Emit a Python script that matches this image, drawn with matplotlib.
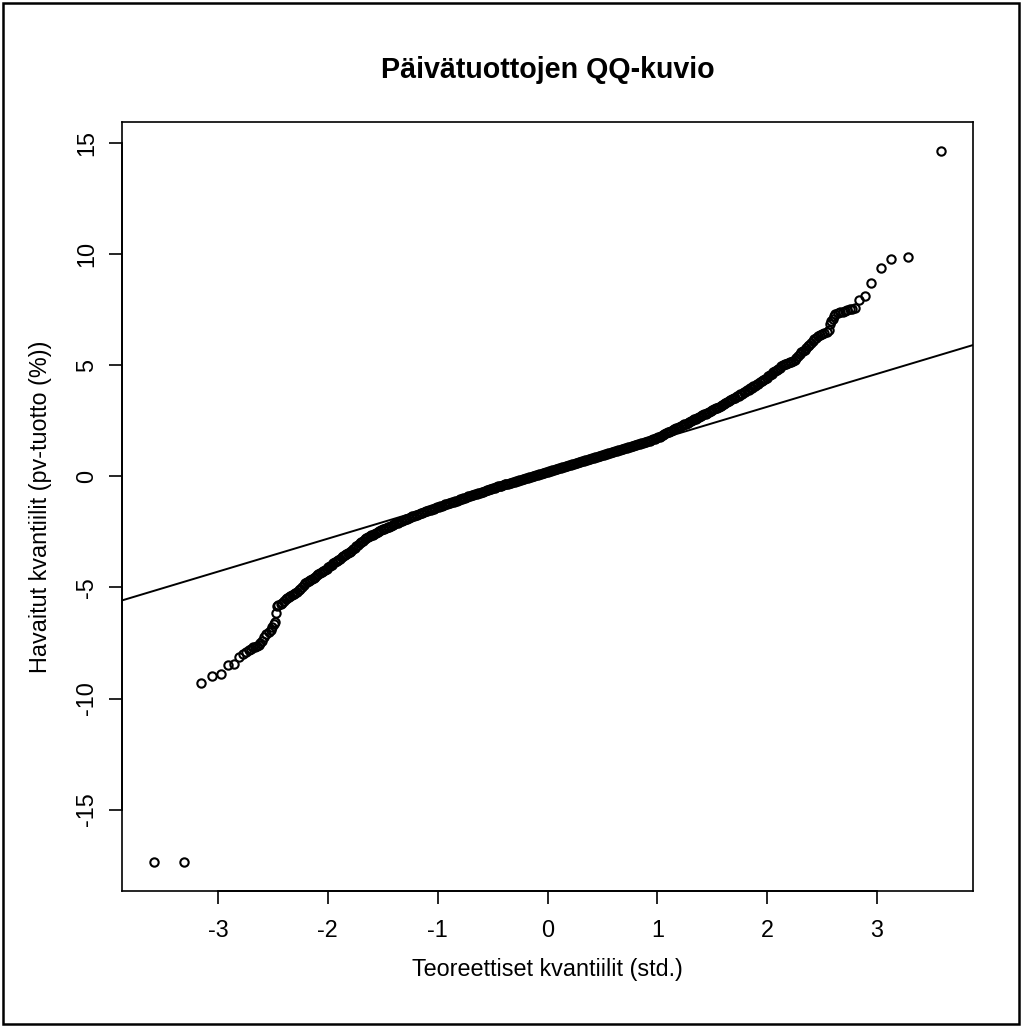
import matplotlib
matplotlib.use("Agg")
import matplotlib.pyplot as plt
from matplotlib.patches import Rectangle
import matplotlib.transforms as mtransforms

plt.rcParams['font.family'] = ['Liberation Sans', 'DejaVu Sans']

title = "Päivätuottojen QQ-kuvio"
x_label = "Teoreettiset kvantiilit (std.)"
y_label = "Havaitut kvantiilit (pv-tuotto (%))"

x_ticks = [-3, -2, -1, 0, 1, 2, 3]
x_tick_labels = ["-3", "-2", "-1", "0", "1", "2", "3"]
y_ticks = [-15, -10, -5, 0, 5, 10, 15]
y_tick_labels = ["-15", "-10", "-5", "0", "5", "10", "15"]

# sparse lower tail (theoretical, observed)
lower_tail_x = [-3.584, -3.307, -3.155, -3.055, -2.973, -2.912, -2.858, -2.812, -2.772,
                -2.745, -2.72, -2.70, -2.68, -2.66, -2.645, -2.63, -2.615, -2.60, -2.578,
                -2.56, -2.539, -2.52, -2.508, -2.49, -2.478, -2.475, -2.463, -2.45]
lower_tail_y = [-17.37, -17.37, -9.29, -9.00, -8.89, -8.49, -8.45, -8.12, -8.01,
                -7.90, -7.82, -7.75, -7.70, -7.66, -7.64, -7.58, -7.49, -7.40, -7.23,
                -7.10, -7.01, -6.90, -6.78, -6.65, -6.56, -6.15, -5.84, -5.80]

# dense central part (theoretical, observed), read along the band
central_x = [-2.43, -2.40, -2.37, -2.34, -2.31, -2.28, -2.25, -2.22, -2.19, -2.16,
             -2.13, -2.10, -2.07, -2.04, -2.01, -1.98, -1.95, -1.92, -1.89, -1.86,
             -1.83, -1.80, -1.77, -1.74, -1.71, -1.68, -1.65, -1.62, -1.59, -1.56,
             -1.53, -1.50, -1.47, -1.44, -1.41, -1.38, -1.35, -1.32, -1.29, -1.26,
             -1.23, -1.20, -1.17, -1.14, -1.11, -1.08, -1.05, -1.02, -0.99, -0.96,
             -0.93, -0.90, -0.87, -0.84, -0.81, -0.78, -0.75, -0.72, -0.69, -0.66,
             -0.63, -0.60, -0.57, -0.54, -0.51, -0.48, -0.45, -0.42, -0.39, -0.36,
             -0.33, -0.30, -0.27, -0.24, -0.21, -0.18, -0.15, -0.12, -0.09, -0.06,
             -0.03, 0.00, 0.03, 0.06, 0.09, 0.12, 0.15, 0.18, 0.21, 0.24,
             0.27, 0.30, 0.33, 0.36, 0.39, 0.42, 0.45, 0.48, 0.51, 0.54,
             0.57, 0.60, 0.63, 0.66, 0.69, 0.72, 0.75, 0.78, 0.81, 0.84,
             0.87, 0.90, 0.93, 0.96, 0.99, 1.02, 1.05, 1.08, 1.11, 1.14,
             1.17, 1.20, 1.23, 1.26, 1.29, 1.32, 1.35, 1.38, 1.41, 1.44,
             1.47, 1.50, 1.53, 1.56, 1.59, 1.62, 1.65, 1.68, 1.71, 1.74,
             1.77, 1.80, 1.83, 1.86, 1.89, 1.92, 1.95, 1.98, 2.01, 2.04,
             2.07, 2.10, 2.13, 2.16, 2.19, 2.22, 2.25, 2.28, 2.31, 2.34,
             2.37, 2.40, 2.43, 2.46]
central_y = [-5.74, -5.62, -5.46, -5.37, -5.28, -5.19, -5.05, -4.88, -4.76, -4.66,
             -4.56, -4.46, -4.36, -4.26, -4.15, -4.04, -3.92, -3.81, -3.70, -3.60,
             -3.49, -3.39, -3.28, -3.14, -3.00, -2.89, -2.79, -2.70, -2.62, -2.53,
             -2.46, -2.39, -2.32, -2.26, -2.19, -2.12, -2.06, -1.99, -1.93, -1.86,
             -1.80, -1.74, -1.69, -1.63, -1.58, -1.53, -1.48, -1.42, -1.37, -1.32,
             -1.26, -1.21, -1.16, -1.11, -1.06, -1.00, -0.95, -0.90, -0.85, -0.80,
             -0.75, -0.70, -0.65, -0.60, -0.55, -0.50, -0.45, -0.41, -0.36, -0.32,
             -0.28, -0.23, -0.19, -0.15, -0.10, -0.06, -0.02, 0.03, 0.07, 0.11,
             0.16, 0.20, 0.25, 0.29, 0.34, 0.38, 0.43, 0.47, 0.52, 0.56,
             0.61, 0.65, 0.70, 0.74, 0.79, 0.83, 0.88, 0.92, 0.97, 1.01,
             1.06, 1.10, 1.15, 1.20, 1.24, 1.29, 1.34, 1.38, 1.43, 1.47,
             1.52, 1.57, 1.61, 1.67, 1.73, 1.79, 1.86, 1.94, 2.01, 2.08,
             2.16, 2.23, 2.30, 2.38, 2.45, 2.53, 2.60, 2.68, 2.76, 2.83,
             2.91, 2.99, 3.06, 3.14, 3.22, 3.29, 3.38, 3.47, 3.55, 3.64,
             3.73, 3.82, 3.91, 4.00, 4.09, 4.18, 4.28, 4.39, 4.50, 4.62,
             4.73, 4.84, 4.95, 5.05, 5.10, 5.15, 5.25, 5.44, 5.58, 5.71,
             5.85, 6.01, 6.17, 6.33]

# further readings of the dense band between the positions above
central2_x = [-2.415, -2.385, -2.355, -2.325, -2.295, -2.265, -2.235, -2.205, -2.175, -2.145,
              -2.115, -2.085, -2.055, -2.025, -1.995, -1.965, -1.935, -1.905, -1.875, -1.845,
              -1.815, -1.785, -1.755, -1.725, -1.695, -1.665, -1.635, -1.605, -1.575, -1.545,
              -1.515, -1.485, -1.455, -1.425, -1.395, -1.365, -1.335, -1.305, -1.275, -1.245,
              -1.215, -1.185, -1.155, -1.125, -1.095, -1.065, -1.035, -1.005, -0.975, -0.945,
              -0.915, -0.885, -0.855, -0.825, -0.795, -0.765, -0.735, -0.705, -0.675, -0.645,
              -0.615, -0.585, -0.555, -0.525, -0.495, -0.465, -0.435, -0.405, -0.375, -0.345,
              -0.315, -0.285, -0.255, -0.225, -0.195, -0.165, -0.135, -0.105, -0.075, -0.045,
              -0.015, 0.015, 0.045, 0.075, 0.105, 0.135, 0.165, 0.195, 0.225, 0.255,
              0.285, 0.315, 0.345, 0.375, 0.405, 0.435, 0.465, 0.495, 0.525, 0.555,
              0.585, 0.615, 0.645, 0.675, 0.705, 0.735, 0.765, 0.795, 0.825, 0.855,
              0.885, 0.915, 0.945, 0.975, 1.005, 1.035, 1.065, 1.095, 1.125, 1.155,
              1.185, 1.215, 1.245, 1.275, 1.305, 1.335, 1.365, 1.395, 1.425, 1.455,
              1.485, 1.515, 1.545, 1.575, 1.605, 1.635, 1.665, 1.695, 1.725, 1.755,
              1.785, 1.815, 1.845, 1.875, 1.905, 1.935, 1.965, 1.995, 2.025, 2.055,
              2.085, 2.115, 2.145, 2.175, 2.205, 2.235, 2.265, 2.295, 2.325, 2.355,
              2.385, 2.415, 2.445]
central2_y = [-5.68, -5.54, -5.42, -5.33, -5.24, -5.12, -4.97, -4.82, -4.71, -4.61,
              -4.51, -4.41, -4.31, -4.21, -4.10, -3.98, -3.87, -3.76, -3.65, -3.55,
              -3.44, -3.34, -3.21, -3.07, -2.95, -2.84, -2.75, -2.66, -2.58, -2.50,
              -2.43, -2.36, -2.29, -2.23, -2.16, -2.09, -2.03, -1.96, -1.90, -1.83,
              -1.77, -1.72, -1.66, -1.61, -1.56, -1.51, -1.45, -1.40, -1.35, -1.29,
              -1.24, -1.19, -1.14, -1.09, -1.03, -0.98, -0.93, -0.88, -0.83, -0.78,
              -0.73, -0.68, -0.63, -0.58, -0.53, -0.48, -0.43, -0.39, -0.34, -0.30,
              -0.26, -0.21, -0.17, -0.13, -0.08, -0.04, 0.01, 0.05, 0.09, 0.14,
              0.18, 0.23, 0.27, 0.32, 0.36, 0.41, 0.45, 0.50, 0.54, 0.59,
              0.63, 0.68, 0.72, 0.77, 0.81, 0.86, 0.90, 0.95, 0.99, 1.04,
              1.08, 1.13, 1.18, 1.22, 1.27, 1.32, 1.36, 1.41, 1.45, 1.50,
              1.55, 1.59, 1.64, 1.70, 1.76, 1.83, 1.90, 1.98, 2.05, 2.12,
              2.20, 2.27, 2.34, 2.42, 2.49, 2.57, 2.64, 2.72, 2.80, 2.87,
              2.95, 3.03, 3.10, 3.18, 3.26, 3.34, 3.43, 3.51, 3.60, 3.69,
              3.78, 3.87, 3.96, 4.05, 4.14, 4.23, 4.34, 4.45, 4.56, 4.68,
              4.79, 4.90, 5.00, 5.08, 5.13, 5.20, 5.35, 5.51, 5.65, 5.78,
              5.93, 6.09, 6.25]

# sparse upper tail (theoretical, observed)
upper_tail_x = [2.48, 2.50, 2.52, 2.54, 2.56, 2.57, 2.58, 2.60, 2.61, 2.62, 2.64, 2.666,
                2.69, 2.711, 2.73, 2.751, 2.77, 2.80, 2.836, 2.891, 2.942, 3.036, 3.124,
                3.282, 3.584]
upper_tail_y = [6.37, 6.41, 6.45, 6.50, 6.59, 6.85, 7.00, 7.08, 7.20, 7.30, 7.34, 7.38,
                7.42, 7.46, 7.49, 7.53, 7.55, 7.58, 7.94, 8.10, 8.72, 9.40, 9.80,
                9.89, 14.66]

# reference line (qqline through quartiles)
line_intercept = 0.165
line_slope = 1.484

W, H = 1022, 1027
fig = plt.figure(figsize=(W / 100, H / 100), dpi=100)
ax_left, ax_right, ax_top, ax_bottom = 122.3, 972.7, 122.3, 890.7
ax = fig.add_axes([ax_left / W, 1 - ax_bottom / H, (ax_right - ax_left) / W, (ax_bottom - ax_top) / H])

xs = lower_tail_x + central_x + central2_x + upper_tail_x
ys = lower_tail_y + central_y + central2_y + upper_tail_y
ax.plot(xs, ys, linestyle='none', marker='o', markersize=6.0, markerfacecolor='none',
        markeredgecolor='black', markeredgewidth=1.5)
ax.margins(0.04)
ax.autoscale_view()
xl = ax.get_xlim(); yl = ax.get_ylim()
ax.set_xlim(xl); ax.set_ylim(yl)
ax.axline((0, line_intercept), slope=line_slope, color='black', lw=1.4)

for s in ax.spines.values():
    s.set_linewidth(1.2)
    s.set_color('black')

ax.set_xticks(x_ticks)
ax.set_xticklabels(x_tick_labels, fontsize=16.8)
ax.set_yticks(y_ticks)
ax.set_yticklabels(y_tick_labels, fontsize=16.8, rotation=90, va='center', ha='right')
ax.tick_params(axis='x', length=9.7, width=1.2, pad=11.0)
ax.tick_params(axis='y', length=9.7, width=1.2, pad=7.6)

# axis line spanning first to last tick (as in R)
trans = mtransforms.blended_transform_factory(ax.transData, ax.transAxes)
ax.plot([x_ticks[0], x_ticks[-1]], [0, 0], color='black', lw=1.3, transform=trans, clip_on=False)
trans_y = mtransforms.blended_transform_factory(ax.transAxes, ax.transData)
ax.plot([0, 0], [y_ticks[0], y_ticks[-1]], color='black', lw=1.3, transform=trans_y, clip_on=False)

cx = (ax_left + ax_right) / 2 / W
cy = 1 - (ax_top + ax_bottom) / 2 / H
fig.text(cx, 1 - 78.3 / H, title, ha='center', va='baseline', fontsize=20.6, fontweight='bold')
fig.text(cx, 1 - 976 / H, x_label, ha='center', va='baseline', fontsize=16.8)
fig.text(41 / W, cy, y_label, ha='center', va='center', rotation=90, fontsize=16.8)

fig.patches.append(Rectangle((3 / W, 3 / H), 1016 / W, 1021 / H, transform=fig.transFigure,
                             fill=False, edgecolor='black', lw=1.8))

fig.savefig("out.png", dpi=100)
